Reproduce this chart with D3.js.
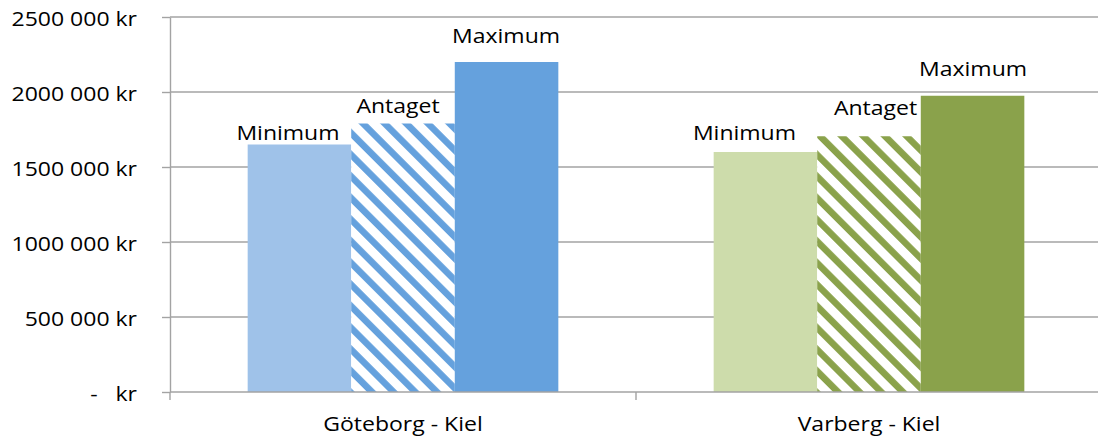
<!DOCTYPE html>
<html>
<head>
<meta charset="utf-8">
<script src="https://cdn.jsdelivr.net/npm/d3@7/dist/d3.min.js"></script>
<style>
  html, body { margin: 0; padding: 0; background: #ffffff; }
  svg { display: block; }
  text { font-family: "Open Sans", "Noto Sans", sans-serif; fill: #000000; }
</style>
</head>
<body>
<svg id="chart" width="1098" height="444"></svg>
<script>
// Route cost per crossing (kr)
const categories = ["Göteborg - Kiel", "Varberg - Kiel"];
const seriesNames = ["Minimum", "Antaget", "Maximum"];
const minimumValues = [1650000, 1600000];
const antagetValues = [1790000, 1705000];
const maximumValues = [2200000, 1975000];
const yTickValues = [0, 500000, 1000000, 1500000, 2000000, 2500000];

// Layout and style
const W = 1098, H = 444;
const plot = { left: 170, right: 1102, top: 17, bottom: 392 };
const fontSize = 19.5;
const stretch = 1.18;           // horizontal text stretch
const palette = [
  { light: "#9fc2e9", dark: "#65a1dd" },   // Göteborg - Kiel
  { light: "#cddcab", dark: "#8aa24b" }    // Varberg - Kiel
];
const gridColor = "#a3a3a3";
// Hand-placed value-name labels: [dx from bar centre, gap above bar top]
const labelNudge = [
  [[-11.5, 5], [-5, 11], [-0.5, 19.3]],
  [[-21, 12.5], [6.5, 21], [0.5, 19.7]]
];

const seriesValues = [minimumValues, antagetValues, maximumValues];
const data = categories.map((c, ci) => ({
  category: c,
  ci,
  bars: seriesNames.map((s, si) => ({ series: s, si, ci, value: seriesValues[si][ci] }))
}));

const svg = d3.select("#chart");

const x = d3.scaleBand().domain(categories).range([plot.left, plot.right]).paddingInner(0).paddingOuter(0);
const xInner = d3.scaleBand().domain(seriesNames).range([0, x.bandwidth()]).paddingInner(0).paddingOuter(0.75);
const y = d3.scaleLinear().domain([0, 2500000]).range([plot.bottom, plot.top]);

const fmt = v => {
  if (v === 0) return "-   kr";
  const th = Math.floor(v / 1000);
  const rest = String(v % 1000).padStart(3, "0");
  return th + " " + rest + " kr";
};

// Diagonal hatch patterns for the "Antaget" bars
const defs = svg.append("defs");
palette.forEach((p, i) => {
  const pat = defs.append("pattern")
    .attr("id", "hatch" + i)
    .attr("patternUnits", "userSpaceOnUse")
    .attr("width", 15.3)
    .attr("height", 15.3)
    .attr("patternTransform", "rotate(-45)");
  pat.append("rect").attr("width", 15.3).attr("height", 15.3).attr("fill", "#ffffff");
  pat.append("rect").attr("x", 0).attr("width", 6.6).attr("height", 15.3).attr("fill", p.dark);
});

// Horizontal gridlines
svg.append("g")
  .selectAll("line")
  .data(yTickValues.filter(v => v > 0))
  .join("line")
  .attr("x1", plot.left)
  .attr("x2", plot.right)
  .attr("y1", d => y(d))
  .attr("y2", d => y(d))
  .attr("stroke", gridColor)
  .attr("stroke-width", 1.4);

// Bars
const groups = svg.append("g")
  .selectAll("g")
  .data(data)
  .join("g")
  .attr("transform", d => `translate(${x(d.category)},0)`);

groups.selectAll("rect")
  .data(d => d.bars)
  .join("rect")
  .attr("x", d => xInner(d.series))
  .attr("width", xInner.bandwidth())
  .attr("y", d => y(d.value))
  .attr("height", d => y(0) - y(d.value))
  .attr("fill", d => d.si === 0 ? palette[d.ci].light : d.si === 1 ? `url(#hatch${d.ci})` : palette[d.ci].dark);

// Series-name labels above bars
groups.selectAll("text.bar-label")
  .data(d => d.bars)
  .join("text")
  .attr("class", "bar-label")
  .attr("text-anchor", "middle")
  .attr("font-size", fontSize)
  .attr("transform", d => {
    const n = labelNudge[d.ci][d.si];
    const cx = xInner(d.series) + xInner.bandwidth() / 2 + n[0];
    const cy = y(d.value) - n[1];
    return `translate(${cx},${cy}) scale(${stretch},1)`;
  })
  .text(d => d.series);

// Y axis
const yAxis = svg.append("g")
  .attr("transform", `translate(${plot.left},0)`)
  .call(d3.axisLeft(y).tickValues(yTickValues).tickFormat(fmt).tickSize(8).tickSizeOuter(0));
yAxis.select(".domain").attr("stroke", gridColor).attr("stroke-width", 1.4);
yAxis.selectAll(".tick line").attr("stroke", gridColor).attr("stroke-width", 1.4);
yAxis.selectAll(".tick text")
  .attr("x", null)
  .attr("dy", null)
  .attr("fill", "#000")
  .attr("font-family", null)
  .attr("font-size", fontSize)
  .attr("text-anchor", "end")
  .style("white-space", "pre")
  .attr("transform", `translate(-33,8) scale(${stretch},1)`);

// X axis
const xAxisG = svg.append("g");
xAxisG.append("line")
  .attr("x1", plot.left).attr("x2", plot.right)
  .attr("y1", y(0)).attr("y2", y(0))
  .attr("stroke", gridColor).attr("stroke-width", 1.4);
const bounds = categories.map(c => x(c)).concat([x(categories[categories.length - 1]) + x.bandwidth()]);
xAxisG.selectAll("line.tick")
  .data(bounds)
  .join("line")
  .attr("class", "tick")
  .attr("x1", d => d).attr("x2", d => d)
  .attr("y1", y(0)).attr("y2", y(0) + 8)
  .attr("stroke", gridColor).attr("stroke-width", 1.4);
xAxisG.selectAll("text")
  .data(categories)
  .join("text")
  .attr("text-anchor", "middle")
  .attr("font-size", fontSize)
  .attr("transform", d => `translate(${x(d) + x.bandwidth() / 2},431) scale(${stretch},1)`)
  .text(d => d);
</script>
</body>
</html>
